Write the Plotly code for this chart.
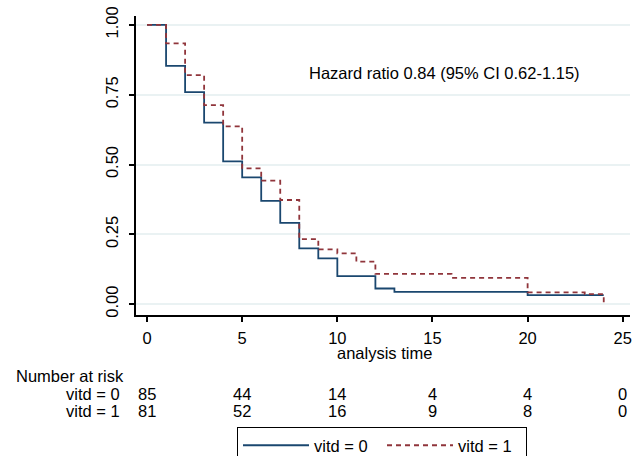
import plotly.graph_objects as go

# Kaplan-Meier estimates
t0 = [0, 1, 2, 3, 4, 5, 6, 7, 8, 9, 10, 12, 13, 20, 24]
s0 = [1.0, 0.853, 0.759, 0.650, 0.511, 0.454, 0.370, 0.291, 0.200, 0.164, 0.100, 0.056, 0.044, 0.032, 0.032]
t1 = [0, 1, 2, 3, 4, 5, 6, 7, 8, 9, 10, 11, 12, 16, 20, 23, 24]
s1 = [1.0, 0.934, 0.820, 0.713, 0.637, 0.486, 0.442, 0.373, 0.233, 0.196, 0.182, 0.152, 0.108, 0.094, 0.042, 0.036, 0.0]

risk_times = [0, 5, 10, 15, 20, 25]
risk_vitd0 = [85, 44, 14, 4, 4, 0]
risk_vitd1 = [81, 52, 16, 9, 8, 0]

x_ticks = [0, 5, 10, 15, 20, 25]
y_ticks = [0, 0.25, 0.5, 0.75, 1.0]
y_ticktext = ["0.00", "0.25", "0.50", "0.75", "1.00"]

names = ["vitd = 0", "vitd = 1"]
hr_text = "Hazard ratio 0.84 (95% CI 0.62-1.15)"
x_title = "analysis time"
risk_title = "Number at risk"

BLUE = "#1a476f"
RED = "#90353b"
FONT = "Liberation Sans, Arial, sans-serif"
FS = 16.5

fig = go.Figure()
fig.add_trace(go.Scatter(x=t0, y=s0, mode="lines", line=dict(shape="hv", color=BLUE, width=1.8),
                         name=names[0]))
fig.add_trace(go.Scatter(x=t1, y=s1, mode="lines", line=dict(shape="hv", color=RED, width=1.8, dash="5px,4px"),
                         name=names[1]))

W, H = 635, 456
ml, mr, mt, mb = 136, 5, 16, 141
ph = H - mt - mb
pw = W - ml - mr

def py(pix):
    return (H - mb - pix) / ph

def px(pix):
    return (pix - ml) / pw

annotations = [
    dict(x=8.41, y=0.828, xref="x", yref="y", text=hr_text, showarrow=False,
         xanchor="left", yanchor="middle"),
    dict(x=12.5, y=py(353), xref="x", yref="paper", text=x_title, showarrow=False,
         xanchor="center", yanchor="middle"),
    dict(x=px(14), y=py(376), xref="paper", yref="paper", text=risk_title,
         showarrow=False, xanchor="left", yanchor="middle"),
    dict(x=px(122), y=py(394), xref="paper", yref="paper", text=names[0],
         showarrow=False, xanchor="right", yanchor="middle"),
    dict(x=px(122), y=py(411), xref="paper", yref="paper", text=names[1],
         showarrow=False, xanchor="right", yanchor="middle"),
]
for t, a, b in zip(risk_times, risk_vitd0, risk_vitd1):
    annotations.append(dict(x=t, y=py(394), xref="x", yref="paper", text=str(a), showarrow=False,
                            xanchor="center", yanchor="middle"))
    annotations.append(dict(x=t, y=py(411), xref="x", yref="paper", text=str(b), showarrow=False,
                            xanchor="center", yanchor="middle"))

fig.update_layout(
    width=W, height=H,
    margin=dict(l=ml, r=mr, t=mt, b=mb, autoexpand=False),
    paper_bgcolor="white", plot_bgcolor="white",
    font=dict(family=FONT, size=FS, color="black"),
    showlegend=True,
    legend=dict(orientation="h", x=px(237), y=py(427), xanchor="left", yanchor="top",
                bordercolor="black", borderwidth=1, bgcolor="white", itemwidth=66,
                entrywidth=63, entrywidthmode="pixels",
                font=dict(size=FS), traceorder="normal"),
    annotations=annotations,
)
fig.update_xaxes(range=[-0.58, 25.38], tickvals=x_ticks, showgrid=False, zeroline=False,
                 showline=True, linecolor="black", linewidth=1.5, ticks="outside", ticklen=5,
                 tickcolor="black", tickwidth=1.5, ticklabelstandoff=2)
fig.update_yaxes(range=[-0.039, 1.032], tickvals=y_ticks, ticktext=y_ticktext, tickangle=-90,
                 showgrid=True, gridcolor="#eaf2f3", gridwidth=1.5, zeroline=False,
                 showline=True, linecolor="black", linewidth=1.5, ticks="outside", ticklen=5,
                 tickcolor="black", tickwidth=1.5, ticklabelstandoff=5)

fig.write_html("out.html", config={"displayModeBar": False},
               post_script="document.body.style.margin='0';document.body.style.overflow='hidden';")
